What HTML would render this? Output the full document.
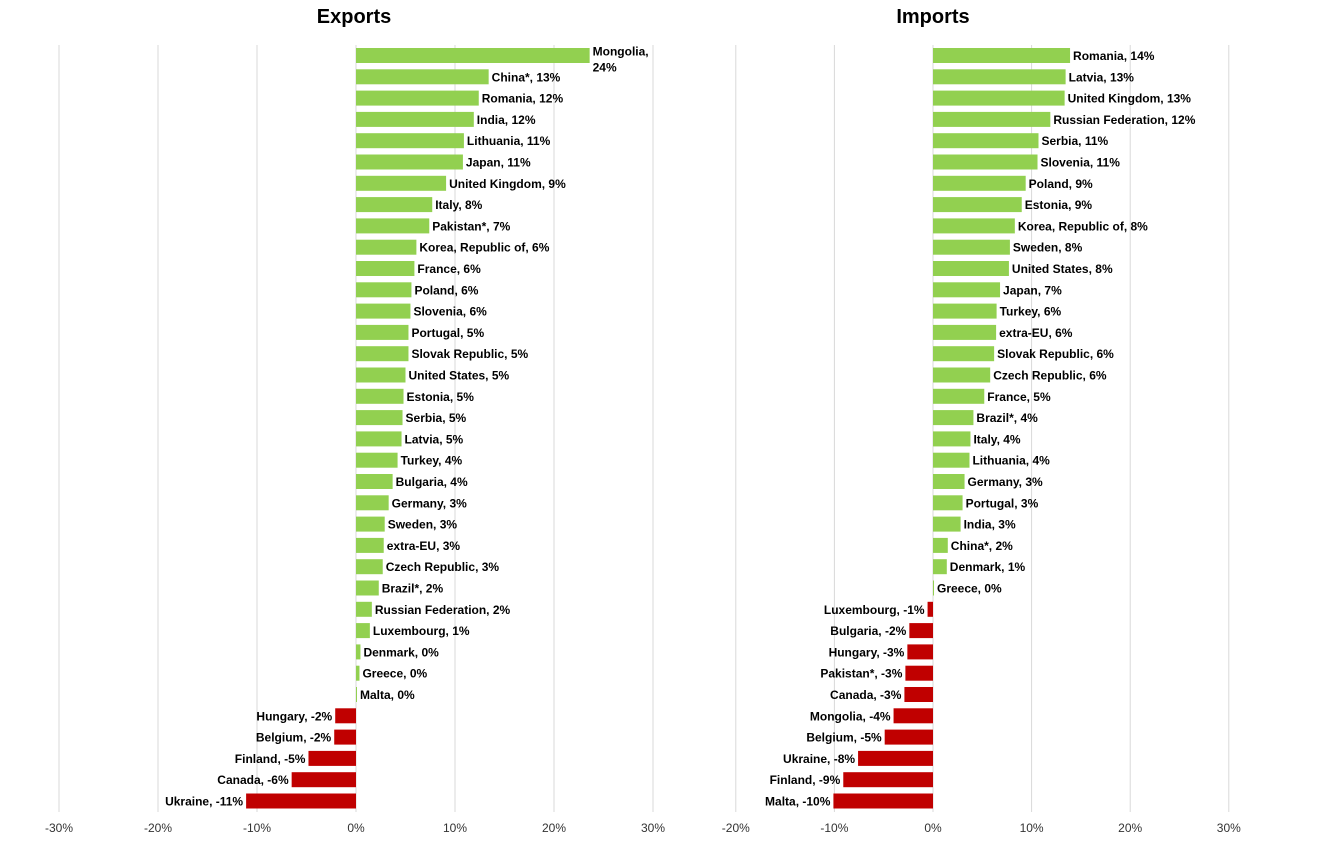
<!DOCTYPE html>
<html><head><meta charset="utf-8"><style>
body{margin:0;background:#fff;}
svg{display:block;font-family:"Liberation Sans",sans-serif;}
</style></head><body>
<svg id="chart" width="1320" height="841"></svg>
<script>
const expCategories=["Mongolia","China*","Romania","India","Lithuania","Japan","United Kingdom","Italy","Pakistan*","Korea, Republic of","France","Poland","Slovenia","Portugal","Slovak Republic","United States","Estonia","Serbia","Latvia","Turkey","Bulgaria","Germany","Sweden","extra-EU","Czech Republic","Brazil*","Russian Federation","Luxembourg","Denmark","Greece","Malta","Hungary","Belgium","Finland","Canada","Ukraine"];
const expValues=[23.6,13.4,12.4,11.9,10.9,10.8,9.1,7.7,7.4,6.1,5.9,5.6,5.5,5.3,5.3,5.0,4.8,4.7,4.6,4.2,3.7,3.3,2.9,2.8,2.7,2.3,1.6,1.4,0.45,0.35,0.1,-2.1,-2.2,-4.8,-6.5,-11.1];
const impCategories=["Romania","Latvia","United Kingdom","Russian Federation","Serbia","Slovenia","Poland","Estonia","Korea, Republic of","Sweden","United States","Japan","Turkey","extra-EU","Slovak Republic","Czech Republic","France","Brazil*","Italy","Lithuania","Germany","Portugal","India","China*","Denmark","Greece","Luxembourg","Bulgaria","Hungary","Pakistan*","Canada","Mongolia","Belgium","Ukraine","Finland","Malta"];
const impValues=[13.9,13.45,13.35,11.9,10.7,10.6,9.4,9.0,8.3,7.8,7.7,6.8,6.45,6.4,6.2,5.8,5.2,4.1,3.8,3.7,3.2,3.0,2.8,1.5,1.4,0.1,-0.55,-2.4,-2.6,-2.8,-2.9,-4.0,-4.9,-7.6,-9.1,-10.1];
const expTicks=[-30,-20,-10,0,10,20,30];
const impTicks=[-20,-10,0,10,20,30];

const svg=document.getElementById('chart');
const NS='http://www.w3.org/2000/svg';
function mk(tag,attrs,parent){const e=document.createElementNS(NS,tag);for(const k in attrs)e.setAttribute(k,attrs[k]);(parent||svg).appendChild(e);return e;}

function panel(title,cats,vals,ticks,zeroX,pxPer10,titleX,key,wrapLimit){
  const g=mk('g',{});
  
  
  const xs=v=>zeroX+v*pxPer10/10;
  const y0=55.5,pitch=(801-55.5)/35,bh=15;
  ticks.forEach(t=>{
    const l=mk('line',{x1:xs(t),x2:xs(t),y1:45,y2:812,stroke:'#d9d9d9','stroke-width':1},g);
    
    
    const tx=mk('text',{x:xs(t),y:832,'text-anchor':'middle','font-size':12,fill:'#333'},g);
    tx.textContent=t+'%';
    
    
  });
  const tt=mk('text',{x:titleX,y:23,'text-anchor':'middle','font-size':20,'font-weight':'bold',fill:'#000'},g);
  tt.textContent=title;
  
  
  cats.forEach((c,i)=>{
    const v=vals[i],cy=y0+i*pitch;
    const x1=Math.min(xs(0),xs(v)),w=Math.abs(xs(v)-xs(0));
    const r=mk('rect',{x:x1,y:cy-bh/2,width:Math.max(w,0.8),height:bh,fill:v>=0?'#92d050':'#c00000'},g);
    
    
    const lbl=c+', '+Math.round(v)+'%';
    const pos=v>=0;
    const lx=pos?xs(v)+3:xs(v)-3;
    const t=mk('text',{x:lx,y:cy+4.5,'text-anchor':pos?'start':'end','font-size':12,'font-weight':'bold',fill:'#000'},g);
    
    
    if(pos && xs(v)>wrapLimit){
      t.setAttribute('y',cy);
      const a=mk('tspan',{x:lx,dy:0},t);a.textContent=c+',';
      const b=mk('tspan',{x:lx,dy:16},t);b.textContent=Math.round(v)+'%';
    } else t.textContent=lbl;
  });
}
panel('Exports',expCategories,expValues,expTicks,356,99,354,'exports',560);
panel('Imports',impCategories,impValues,impTicks,933,98.6,933,'imports',1200);
</script>
</body></html>
